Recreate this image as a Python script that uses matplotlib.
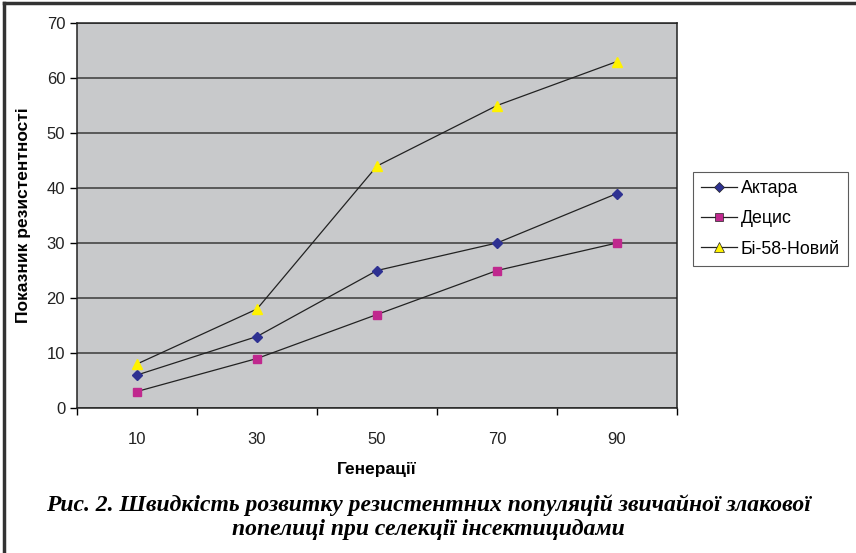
import matplotlib.pyplot as plt
from matplotlib.lines import Line2D

# data
generations = ['10', '30', '50', '70', '90']
aktara = [6, 13, 25, 30, 39]
detsys = [3, 9, 17, 25, 30]
bi58 = [8, 18, 44, 55, 63]
series_names = ['Актара', 'Децис', 'Бі-58-Новий']

fig = plt.figure(figsize=(8.56, 5.53), dpi=100)
W, H = 856, 553
ax = fig.add_axes([77 / W, 1 - 408 / H, 600 / W, 385 / H])
ax.set_facecolor('#c8c9cb')

x = range(len(generations))
ax.plot(x, aktara, color='#222222', lw=0.9, marker='D', ms=5.5,
        mfc='#2e3192', mec='#2e3192', label=series_names[0], zorder=3)
ax.plot(x, detsys, color='#222222', lw=0.9, marker='s', ms=6,
        mfc='#c0288e', mec='#c0288e', label=series_names[1], zorder=3)
ax.plot(x, bi58, color='#222222', lw=0.9, marker='^', ms=7,
        mfc='#fff200', mec='#fff200', label=series_names[2], zorder=3)

ax.set_xlim(-0.5, len(generations) - 0.5)
ax.set_ylim(0, 70)
ax.set_yticks(range(0, 71, 10))
ax.set_xticks(x)
ax.set_xticklabels(generations)
ax.set_xticks([i - 0.5 for i in range(len(generations) + 1)], minor=True)
ax.tick_params(axis='x', which='major', length=0, pad=17, labelsize=12)
ax.tick_params(axis='x', which='minor', length=5, width=1, direction='out')
ax.tick_params(axis='y', length=5, width=1, labelsize=12)
for lab in ax.get_xticklabels() + ax.get_yticklabels():
    lab.set_family('Liberation Sans')
    lab.set_color('#222222')

ax.grid(axis='y', color='#3a3a3a', lw=1.1)
ax.set_axisbelow(True)
for s in ax.spines.values():
    s.set_color('#222222')
    s.set_linewidth(1.1)

ax.set_xlabel('Генерації', fontsize=12.5, fontweight='bold',
              family='Liberation Sans', labelpad=11)
ax.set_ylabel('Показник резистентності', fontsize=12.5, fontweight='bold',
              family='Liberation Sans', labelpad=11)

handles = [
    Line2D([], [], color='#222222', lw=0.9, marker='D', ms=5,
           mfc='#2e3192', mec='#222222', mew=0.5),
    Line2D([], [], color='#222222', lw=0.9, marker='s', ms=5.5,
           mfc='#c0288e', mec='#222222', mew=0.5),
    Line2D([], [], color='#222222', lw=0.9, marker='^', ms=6.5,
           mfc='#fff200', mec='#222222', mew=0.5),
]
leg = fig.legend(handles, series_names, loc='upper left',
                 bbox_to_anchor=(693 / W, 1 - 172 / H), frameon=True,
                 fancybox=False, edgecolor='#333333', borderpad=0.45,
                 borderaxespad=0, labelspacing=0.75, handlelength=2.0,
                 handletextpad=0.25,
                 prop={'family': 'Liberation Sans', 'size': 12.8})
leg.get_frame().set_linewidth(0.8)

fig.text(0.5, 1 - 505 / H,
         'Рис. 2. Швидкість розвитку резистентних популяцій звичайної злакової',
         ha='center', va='center', fontsize=17, fontweight='bold',
         style='italic', family='Liberation Serif')
fig.text(0.5, 1 - 529 / H, 'попелиці при селекції інсектицидами',
         ha='center', va='center', fontsize=17, fontweight='bold',
         style='italic', family='Liberation Serif')

# outer frame: left and top edges only
fig.add_artist(Line2D([4 / W, 4 / W], [0, 1 - 3 / H], color='#333333', lw=2.5))
fig.add_artist(Line2D([4 / W, 1], [1 - 3 / H, 1 - 3 / H], color='#333333', lw=2.5))

fig.savefig('out.png', dpi=100)
